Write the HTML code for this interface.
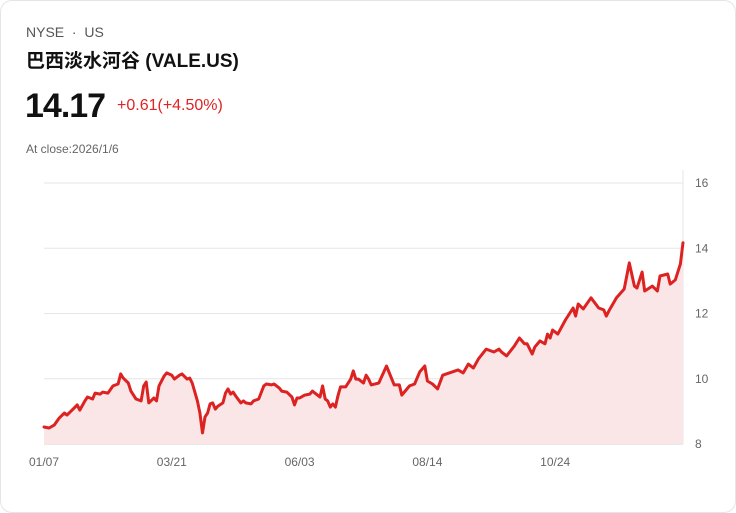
<!DOCTYPE html>
<html><head><meta charset="utf-8"><style>
html,body{margin:0;padding:0;background:#fff;}
body{width:736px;height:513px;overflow:hidden;font-family:"Liberation Sans","Noto Sans CJK SC",sans-serif;}
.card{position:absolute;left:0;top:0;width:734px;height:511px;border:1px solid #e3e5e8;border-radius:12px;}
.t{position:absolute;white-space:nowrap;}
</style></head><body>
<div class="card">
<div class="t" style="left:25px;top:23px;font-size:14px;color:#555;">NYSE &nbsp;·&nbsp; US</div>
<div class="t" style="left:25px;top:45px;font-size:19px;font-weight:bold;color:#111;">巴西淡水河谷 (VALE.US)</div>
<div class="t" style="left:24px;top:86px;font-size:34px;font-weight:bold;color:#111;letter-spacing:-1px;">14.17</div>
<div class="t" style="left:116px;top:96px;font-size:16px;color:#e02424;">+0.61(+4.50%)</div>
<div class="t" style="left:25px;top:141px;font-size:12px;color:#666;">At close:2026/1/6</div>
<svg id="chart" width="736" height="513" style="position:absolute;left:-1px;top:-1px;"></svg>
</div>
<script>
const days=[0,2,4,6,8,9,11,13,14,16,17,19,20,22,23,25,27,29,30,31,33,34,36,38,39,40,41,43,44,45,47,48,50,51,53,54,56,57,58,60,61,62,63,64,65,66,67,68,70,71,72,73,74,75,77,78,79,81,82,84,86,87,89,90,92,93,95,97,98,99,100,102,104,105,106,108,109,110,111,112,113,114,115,116,118,120,121,122,123,125,126,127,128,131,134,137,139,140,143,145,147,149,150,152,154,156,162,164,166,168,170,173,176,178,179,181,184,186,188,189,191,192,194,196,197,198,199,201,204,207,208,209,211,214,217,219,220,221,224,227,229,231,232,234,235,238,240,241,244,245,247,249,250];
const prices=[8.52,8.49,8.58,8.80,8.95,8.89,9.04,9.20,9.04,9.32,9.44,9.38,9.56,9.53,9.59,9.56,9.78,9.84,10.15,10.02,9.87,9.62,9.38,9.32,9.78,9.90,9.26,9.41,9.32,9.78,10.08,10.18,10.11,9.99,10.11,10.15,9.99,10.02,9.87,9.32,8.95,8.34,8.83,8.95,9.23,9.26,9.07,9.16,9.26,9.56,9.69,9.53,9.59,9.47,9.26,9.32,9.26,9.23,9.32,9.38,9.78,9.84,9.81,9.84,9.72,9.62,9.59,9.44,9.20,9.41,9.41,9.50,9.53,9.62,9.56,9.44,9.78,9.38,9.32,9.13,9.23,9.13,9.47,9.75,9.75,9.99,10.24,9.99,9.99,9.87,10.11,9.99,9.81,9.87,10.39,9.81,9.81,9.50,9.78,9.84,10.21,10.39,9.93,9.84,9.69,10.11,10.27,10.18,10.45,10.33,10.61,10.91,10.82,10.91,10.82,10.70,11.00,11.25,11.07,11.07,10.76,10.97,11.16,11.07,11.37,11.25,11.49,11.37,11.80,12.17,11.92,12.29,12.14,12.48,12.17,12.11,11.92,12.08,12.48,12.75,13.55,12.84,12.78,13.27,12.69,12.84,12.69,13.15,13.21,12.90,13.03,13.52,14.17];
const yTicks=[8,10,12,16,14];
const xTickDays=[0,50,100,150,200];
const xTickLabels=["01/07","03/21","06/03","08/14","10/24"];
const NS="http://www.w3.org/2000/svg";
const svg=document.getElementById('chart');
const X0=44,X1=683,Y0=444,Y1=183,D=250,VMIN=8,VMAX=16;
const xs=d=>X0+(d/D)*(X1-X0);
const ys=v=>Y0-(v-VMIN)/(VMAX-VMIN)*(Y0-Y1);
function mk(t,a){const e=document.createElementNS(NS,t);for(const k in a)e.setAttribute(k,a[k]);svg.appendChild(e);return e;}
yTicks.forEach(v=>{
  const l=mk('line',{x1:X0,x2:X1,y1:ys(v),y2:ys(v),stroke:v===VMIN?'#d0d0d0':'#e6e6e6','stroke-width':1});
  
  
  const t=mk('text',{x:695,y:ys(v)+4,'font-size':12,fill:'#666','font-family':'Liberation Sans, sans-serif'});
  t.textContent=v;
  
  
});
const ax=mk('line',{x1:X1,x2:X1,y1:170,y2:Y0,stroke:'#e6e6e6','stroke-width':1});


xTickDays.forEach((d,i)=>{
  const t=mk('text',{x:xs(d),y:466,'font-size':12,fill:'#666','text-anchor':'middle','font-family':'Liberation Sans, sans-serif'});
  t.textContent=xTickLabels[i];
  
  
});
let pts=days.map((d,i)=>xs(d).toFixed(1)+','+ys(prices[i]).toFixed(1));
const area=mk('polygon',{points:pts.join(' ')+' '+xs(days[days.length-1])+','+Y0+' '+xs(0)+','+Y0,fill:'#fae6e6'});


const line=mk('polyline',{points:pts.join(' '),fill:'none',stroke:'#dd2222','stroke-width':3,'stroke-linejoin':'round','stroke-linecap':'round'});


</script>
</body></html>
